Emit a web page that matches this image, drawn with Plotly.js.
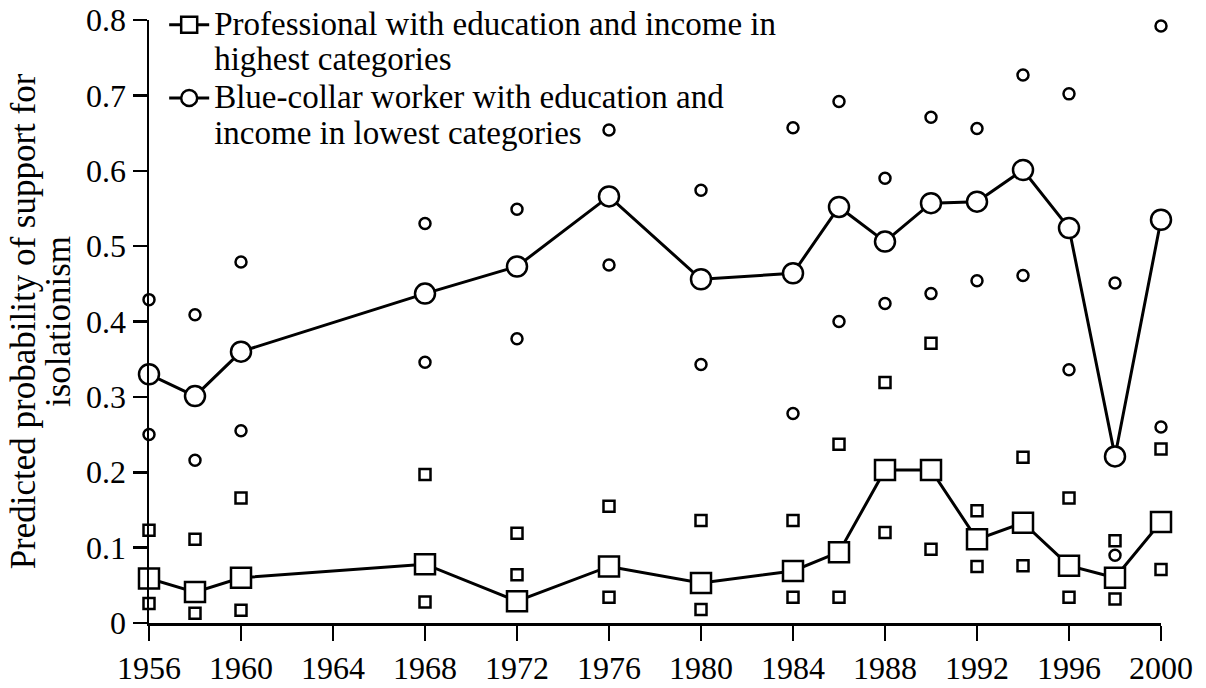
<!DOCTYPE html>
<html>
<head>
<meta charset="utf-8">
<script src="https://cdn.plot.ly/plotly-3.0.1.min.js"></script>
<style>html,body{margin:0;padding:0;background:#fff;}#chart{width:1206px;height:688px;}</style>
</head>
<body>
<div id="chart"></div>
<script>
const years = [1956,1958,1960,1968,1972,1976,1980,1984,1986,1988,1990,1992,1994,1996,1998,2000];

const profMean  = [0.059,0.041,0.060,0.078,0.029,0.075,0.053,0.069,0.094,0.203,0.203,0.111,0.133,0.076,0.060,0.134];
const profUpper = [0.123,0.111,0.166,0.197,0.119,0.155,0.136,0.136,0.237,0.319,0.371,0.149,0.220,0.166,0.109,0.231];
const profLower = [0.026,0.013,0.017,0.028,0.064,0.034,0.018,0.034,0.034,0.120,0.098,0.075,0.076,0.034,0.032,0.071];

const blueMean  = [0.330,0.301,0.360,0.437,0.473,0.566,0.456,0.464,0.552,0.506,0.557,0.559,0.601,0.524,0.221,0.535];
const blueUpper = [0.429,0.409,0.479,0.530,0.549,0.654,0.574,0.657,0.692,0.590,0.671,0.656,0.727,0.702,0.451,0.792];
const blueLower = [0.250,0.216,0.255,0.346,0.377,0.475,0.343,0.278,0.400,0.424,0.437,0.454,0.461,0.336,0.090,0.260];

const profName = 'Professional with education and income in<br>highest categories';
const blueName = 'Blue-collar worker with education and<br>income in lowest categories';
const yTitle = 'Predicted probability of support for<br>isolationism';
const xTicks = [1956,1960,1964,1968,1972,1976,1980,1984,1988,1992,1996,2000];

const FONT = 'Liberation Serif, Times New Roman, serif';
const sized = (s, px) => '<span style="font-size:' + px + 'px">' + s.split('<br>').join('</span><br><span style="font-size:' + px + 'px">') + '</span>';

function small(y, sym) {
  return {x: years, y: y, type: 'scatter', mode: 'markers', showlegend: false, cliponaxis: false, hoverinfo: 'skip',
    marker: {symbol: sym, size: 11, color: '#fff', line: {color: '#000', width: 2.5}}};
}
function main(y, sym, name) {
  return {x: years, y: y, type: 'scatter', mode: 'lines+markers', name: sized(name, 33), cliponaxis: false,
    line: {color: '#000', width: 3},
    marker: {symbol: sym, size: 20, color: '#fff', line: {color: '#000', width: 2.5}}};
}

const data = [
  small(profUpper, 'square'), small(profLower, 'square'),
  small(blueUpper, 'circle'), small(blueLower, 'circle'),
  main(profMean, 'square', profName),
  main(blueMean, 'circle', blueName)
];

const layout = {
  width: 1206, height: 688,
  margin: {l: 149, r: 45, t: 20, b: 65, autoexpand: false},
  paper_bgcolor: '#fff', plot_bgcolor: '#fff',
  font: {family: FONT, color: '#000', size: 32},
  showlegend: true,
  legend: {x: 0.015, y: 1.032, xanchor: 'left', yanchor: 'top', bgcolor: 'rgba(0,0,0,0)', itemwidth: 40,
    font: {family: FONT, size: 27, color: '#000'}, valign: 'top', tracegroupgap: 0},
  xaxis: {range: [1956, 2000], tickmode: 'array', tickvals: xTicks, ticks: 'outside', ticklen: 15, tickwidth: 2.5,
    tickcolor: '#000', showline: true, linecolor: '#000', linewidth: 2.5, showgrid: false, zeroline: false,
    tickfont: {family: FONT, size: 32, color: '#000'}},
  yaxis: {range: [0, 0.8], dtick: 0.1, tick0: 0, ticks: 'outside', ticklen: 14, tickwidth: 2.5, tickcolor: '#000',
    showline: true, linecolor: '#000', linewidth: 2.5, showgrid: false, zeroline: false,
    tickfont: {family: FONT, size: 32, color: '#000'},
    title: {text: sized(yTitle, 35), font: {family: FONT, size: 27, color: '#000'}, standoff: 8}}
};

Plotly.newPlot('chart', data, layout, {displayModeBar: false, staticPlot: true});
</script>
</body>
</html>
